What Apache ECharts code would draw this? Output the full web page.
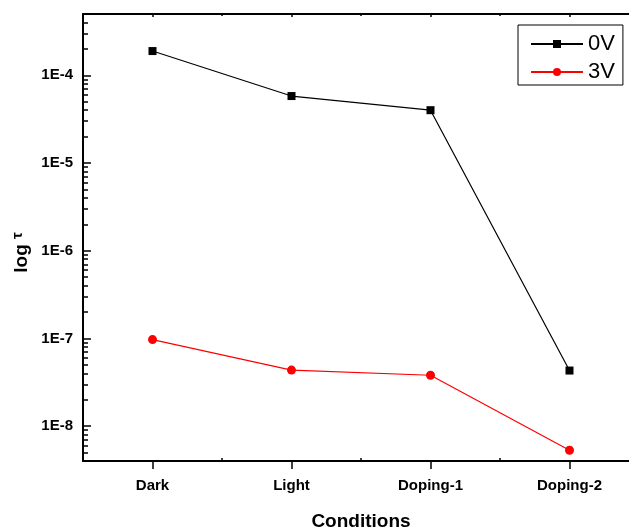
<!DOCTYPE html>
<html>
<head>
<meta charset="utf-8">
<script src="https://cdn.jsdelivr.net/npm/echarts@6/dist/echarts.min.js"></script>
<style>html,body{margin:0;padding:0;background:#fff}#c{width:629px;height:531px}</style>
</head>
<body>
<div id="c"></div>
<script>
const categories = ['Dark', 'Light', 'Doping-1', 'Doping-2'];
const series0V = [1.89e-4, 5.8e-5, 4.0e-5, 4.3e-8];
const series3V = [9.7e-8, 4.35e-8, 3.8e-8, 5.3e-9];
const yMin = 4e-9;
const yMax = 5e-4;
const yMajorTicks = [1e-8, 1e-7, 1e-6, 1e-5, 1e-4];
const yMinorMultipliers = [2, 3, 4, 5, 6, 7, 8, 9];

const FONT = '"Liberation Sans", Arial, sans-serif';
const lg = v => Math.log10(v);
const minorTickVals = [];
[1e-9, 1e-8, 1e-7, 1e-6, 1e-5, 1e-4].forEach(d => {
  yMinorMultipliers.forEach(m => {
    const v = m * d;
    if (v >= yMin && v <= yMax) minorTickVals.push(lg(v));
  });
});

const chart = echarts.init(document.getElementById('c'), null, {renderer: 'canvas'});
const axisLineStyle = {show: true, lineStyle: {color: '#000', width: 2}};

chart.setOption({
  backgroundColor: '#fff',
  animation: false,
  grid: {left: 83, top: 14, width: 556, height: 447, containLabel: false, outerBoundsMode: 'none'},
  legend: {
    orient: 'vertical',
    left: 518, top: 25,
    padding: [8, 8, 2, 12],
    itemWidth: 52, itemHeight: 10, itemGap: 6,
    borderColor: '#000', borderWidth: 1,
    textStyle: {fontFamily: FONT, fontSize: 22, color: '#000'},
    data: ['0V', '3V']
  },
  xAxis: [
    {
      type: 'category', data: categories, position: 'bottom', boundaryGap: true,
      axisLine: axisLineStyle,
      axisTick: {show: true, alignWithLabel: true, inside: false, length: 8, lineStyle: {color: '#000', width: 1.5}},
      axisLabel: {color: '#000', fontFamily: FONT, fontWeight: 'bold', fontSize: 15, margin: 17},
      name: 'Conditions', nameLocation: 'middle', nameGap: 51,
      nameTextStyle: {color: '#000', fontFamily: FONT, fontWeight: 'bold', fontSize: 19},
      splitLine: {show: false}
    },
    {
      type: 'category', data: categories, position: 'bottom', boundaryGap: true,
      axisLine: {show: false},
      axisTick: {show: true, alignWithLabel: false, inside: true, length: 3, lineStyle: {color: '#000', width: 1.5}},
      axisLabel: {show: false}, splitLine: {show: false}
    },
    {
      type: 'category', data: categories, position: 'top', boundaryGap: true,
      axisLine: axisLineStyle,
      axisTick: {show: true, alignWithLabel: true, inside: true, length: 3, lineStyle: {color: '#000', width: 1.5}},
      axisLabel: {show: false}, splitLine: {show: false}
    },
    {
      type: 'category', data: categories, position: 'top', boundaryGap: true,
      axisLine: {show: false},
      axisTick: {show: true, alignWithLabel: false, inside: true, length: 2, lineStyle: {color: '#000', width: 1.5}},
      axisLabel: {show: false}, splitLine: {show: false}
    }
  ],
  yAxis: [
    {
      type: 'log', logBase: 10, min: yMin, max: yMax, position: 'left',
      axisLine: axisLineStyle,
      axisTick: {show: false}, axisLabel: {show: false}, splitLine: {show: false},
      name: '{a|log }{b|τ}', nameLocation: 'middle', nameGap: 50, nameRotate: 90,
      nameTextStyle: {
        color: '#000', fontFamily: FONT, fontWeight: 'bold', fontSize: 19,
        padding: [0, 30, 0, 0],
        rich: {
          a: {fontFamily: FONT, fontWeight: 'bold', fontSize: 19, color: '#000'},
          b: {fontFamily: FONT, fontSize: 15, color: '#000', padding: [0, 0, 8, 0]}
        }
      }
    },
    {
      type: 'value', min: lg(yMin), max: lg(yMax), position: 'left',
      axisLine: {show: false},
      axisTick: {show: true, inside: true, length: 8, customValues: yMajorTicks.map(lg), lineStyle: {color: '#000', width: 1.5}},
      axisLabel: {
        show: true, customValues: yMajorTicks.map(lg), margin: 10,
        color: '#000', fontFamily: FONT, fontWeight: 'bold', fontSize: 15,
        formatter: v => '1E' + Math.round(v)
      },
      splitLine: {show: false}
    },
    {
      type: 'value', min: lg(yMin), max: lg(yMax), position: 'left',
      axisLine: {show: false},
      axisTick: {show: true, inside: true, length: 5, customValues: minorTickVals, lineStyle: {color: '#000', width: 1.5}},
      axisLabel: {show: false}, splitLine: {show: false}
    }
  ],
  series: [
    {
      name: '0V', type: 'line', data: series0V, xAxisIndex: 0, yAxisIndex: 0,
      symbol: 'rect', symbolSize: 8,
      lineStyle: {color: '#000', width: 1.2},
      itemStyle: {color: '#000'}
    },
    {
      name: '3V', type: 'line', data: series3V, xAxisIndex: 0, yAxisIndex: 0,
      symbol: 'circle', symbolSize: 9,
      lineStyle: {color: '#ff0000', width: 1.2},
      itemStyle: {color: '#ff0000'}
    }
  ]
});
</script>
</body>
</html>
